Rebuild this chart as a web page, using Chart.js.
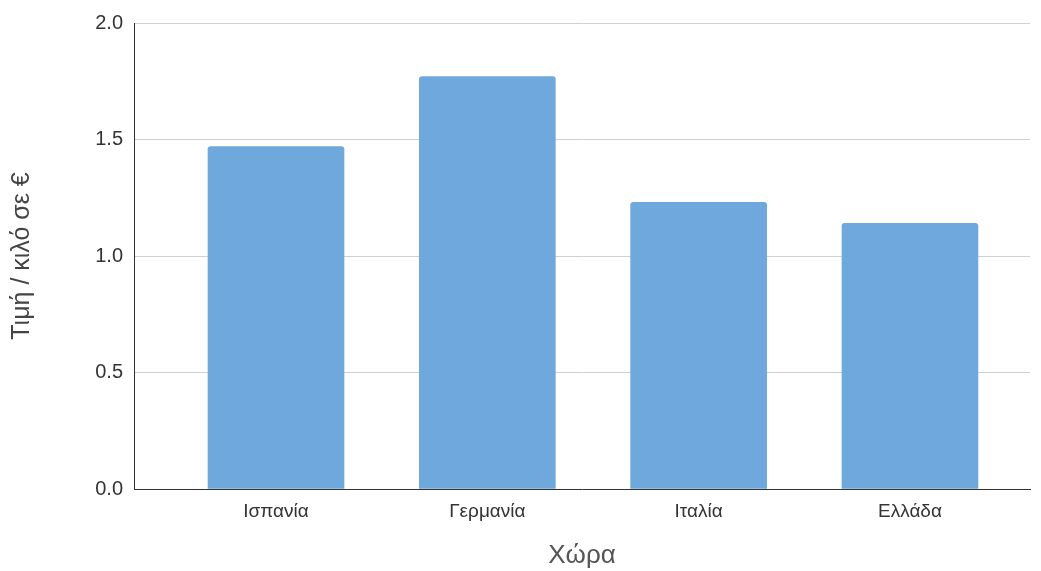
<!DOCTYPE html>
<html>
<head>
<meta charset="utf-8">
<script src="https://cdn.jsdelivr.net/npm/chart.js@4/dist/chart.umd.min.js"></script>
<style>
  html, body { margin: 0; padding: 0; background: #fff; }
  #wrap { width: 1041px; height: 571px; }
</style>
</head>
<body>
<div id="wrap"><canvas id="myChart"></canvas></div>
<script>
// data
const countries = ["Ισπανία", "Γερμανία", "Ιταλία", "Ελλάδα"];
const prices = [1.47, 1.77, 1.23, 1.14];
const yTicks = [0, 0.5, 1.0, 1.5, 2.0];

const barColor = "#6fa8dc";
const fontFamily = "'Liberation Sans', Arial, sans-serif";

// bars sit on a linear x scale so the gap at the axis ends can match
var points = [];
for (var i = 0; i < prices.length; i++) {
  points.push({ x: i, y: prices[i] });
}

new Chart("myChart", {
  type: "bar",
  data: {
    labels: countries,
    datasets: [{
      data: points,
      backgroundColor: barColor,
      borderRadius: 3,
      barThickness: 136
    }]
  },
  options: {
    responsive: true,
    maintainAspectRatio: false,
    animation: false,
    layout: { padding: { top: 22, right: 11, left: 0, bottom: 0 } },
    plugins: {
      legend: { display: false },
      tooltip: { enabled: false }
    },
    scales: {
      x: {
        type: "linear",
        offset: false,
        min: -0.672,
        max: 3.568,
        grid: { display: false, drawTicks: false },
        border: { display: true, color: "#333", width: 1 },
        afterBuildTicks: function(scale) {
          scale.ticks = countries.map(function(c, i) { return { value: i }; });
        },
        afterFit: function(scale) { scale.height = 82; },
        ticks: {
          padding: 11,
          autoSkip: false,
          maxRotation: 0,
          color: "#333",
          font: { family: fontFamily, size: 19 },
          callback: function(v) { return countries[v]; }
        },
        title: {
          display: true,
          text: "Χώρα",
          color: "#555",
          font: { family: fontFamily, size: 26 },
          padding: { top: 0, bottom: 0 }
        }
      },
      y: {
        min: yTicks[0],
        max: yTicks[yTicks.length - 1],
        afterBuildTicks: function(scale) {
          scale.ticks = yTicks.map(function(v) { return { value: v }; });
        },
        afterFit: function(scale) { scale.width = 134; },
        grid: { color: "#d0d0d0", lineWidth: 1, drawTicks: false },
        border: { display: true, color: "#333", width: 1 },
        ticks: {
          padding: 11,
          color: "#333",
          font: { family: fontFamily, size: 20 },
          callback: function(v) { return Number(v).toFixed(1); }
        },
        title: {
          display: true,
          text: "Τιμή / κιλό σε €",
          color: "#444",
          font: { family: fontFamily, size: 25 },
          padding: { top: 7, bottom: 0 }
        }
      }
    }
  }
});
</script>
</body>
</html>
